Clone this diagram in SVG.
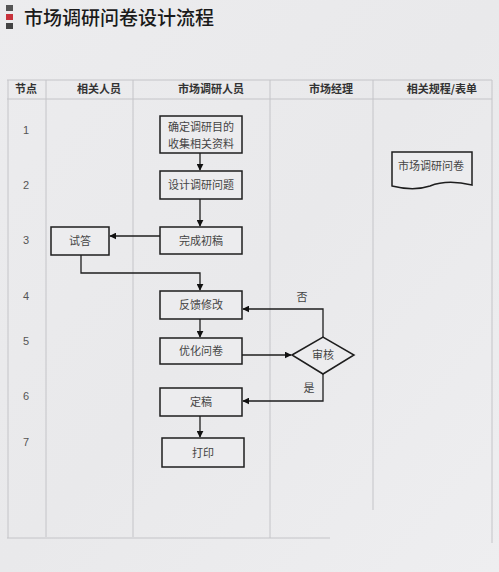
<svg xmlns="http://www.w3.org/2000/svg" width="499" height="572" viewBox="0 0 499 572">
<defs>
<linearGradient id="bg" x1="0" y1="0" x2="1" y2="1">
<stop offset="0" stop-color="#ececee"/>
<stop offset="0.5" stop-color="#e9e9eb"/>
<stop offset="1" stop-color="#eeeef0"/>
</linearGradient>
<marker id="ah" viewBox="0 0 10 10" refX="9" refY="5" markerWidth="7" markerHeight="7" orient="auto" markerUnits="userSpaceOnUse">
<path d="M0,0 L10,5 L0,10 z" fill="#111"/>
</marker>
<style>
.grid{stroke:#c4c4c8;stroke-width:1;fill:none}
.hdr{font-family:"Noto Sans CJK SC","Noto Sans",sans-serif;font-size:11px;font-weight:bold;fill:#333;text-anchor:middle}
.num{font-family:"Liberation Sans","Noto Sans",sans-serif;font-size:11px;fill:#555;text-anchor:middle}
.box{fill:#ececee;stroke:#1e1e1e;stroke-width:1.5}
.lbl{font-family:"Noto Sans CJK SC","Noto Sans",sans-serif;font-size:11px;fill:#444;text-anchor:middle}
.con{fill:none;stroke:#1e1e1e;stroke-width:1.3}
</style>
</defs>
<rect width="499" height="572" fill="url(#bg)"/>
<g id="title">
<rect x="6" y="5" width="7" height="6" fill="#555"/>
<rect x="6" y="14" width="7" height="6" fill="#c8323c"/>
<rect x="6" y="23" width="7" height="6" fill="#444"/>
<text x="24" y="25" font-family="Noto Sans CJK SC,sans-serif" font-size="19" font-weight="500" fill="#1a1a1a">市场调研问卷设计流程</text>
</g>
<g id="table">
<line class="grid" x1="7" y1="80" x2="492" y2="80"/>
<line class="grid" x1="7" y1="99" x2="492" y2="99"/>
<line class="grid" x1="7" y1="538" x2="330" y2="538"/>
<line class="grid" x1="8" y1="80" x2="8" y2="538"/>
<line class="grid" x1="46" y1="80" x2="46" y2="537"/>
<line class="grid" x1="133" y1="80" x2="133" y2="537" stroke="#d4d4d8"/>
<line class="grid" x1="270" y1="80" x2="270" y2="538"/>
<line class="grid" x1="373" y1="80" x2="373" y2="510"/>
<line class="grid" x1="492" y1="80" x2="492" y2="543"/>
<text class="hdr" x="26" y="93">节点</text>
<text class="hdr" x="99" y="93">相关人员</text>
<text class="hdr" x="211" y="93">市场调研人员</text>
<text class="hdr" x="331" y="93">市场经理</text>
<text class="hdr" x="442" y="93">相关规程/表单</text>
<text class="num" x="26" y="134">1</text>
<text class="num" x="26" y="189">2</text>
<text class="num" x="26" y="244">3</text>
<text class="num" x="26" y="300">4</text>
<text class="num" x="26" y="345">5</text>
<text class="num" x="26" y="400">6</text>
<text class="num" x="26" y="446">7</text>
</g>
<g id="connectors">
<line class="con" x1="200" y1="153" x2="200" y2="170" marker-end="url(#ah)"/>
<line class="con" x1="200" y1="199" x2="200" y2="226" marker-end="url(#ah)"/>
<line class="con" x1="160" y1="236" x2="110" y2="236" marker-end="url(#ah)"/>
<polyline class="con" points="81,255 81,273 200,273 200,290" marker-end="url(#ah)"/>
<line class="con" x1="200" y1="319" x2="200" y2="337" marker-end="url(#ah)"/>
<line class="con" x1="242" y1="355" x2="291" y2="355" marker-end="url(#ah)"/>
<polyline class="con" points="323,337 323,309 243,309" marker-end="url(#ah)"/>
<polyline class="con" points="323,374 323,401 243,401" marker-end="url(#ah)"/>
<line class="con" x1="200" y1="416" x2="200" y2="437" marker-end="url(#ah)"/>
<text class="lbl" x="302" y="301">否</text>
<text class="lbl" x="309" y="392">是</text>
</g>
<g id="n1">
<rect class="box" x="160" y="116" width="82" height="37"/>
<text class="lbl" x="201" y="131">确定调研目的</text>
<text class="lbl" x="201" y="148">收集相关资料</text>
</g>
<g id="n2">
<rect class="box" x="160" y="171" width="82" height="28"/>
<text class="lbl" x="201" y="189">设计调研问题</text>
</g>
<g id="n3">
<rect class="box" x="160" y="227" width="82" height="27"/>
<text class="lbl" x="201" y="245">完成初稿</text>
</g>
<g id="n3b">
<rect class="box" x="51" y="227" width="58" height="28"/>
<text class="lbl" x="80" y="245">试答</text>
</g>
<g id="n4">
<rect class="box" x="160" y="291" width="82" height="28"/>
<text class="lbl" x="201" y="309">反馈修改</text>
</g>
<g id="n5">
<rect class="box" x="160" y="338" width="82" height="26"/>
<text class="lbl" x="201" y="355">优化问卷</text>
</g>
<g id="review">
<polygon class="box" points="292,355 323,337 354,355 323,374"/>
<text class="lbl" x="323" y="359">审核</text>
</g>
<g id="n6">
<rect class="box" x="160" y="388" width="82" height="28"/>
<text class="lbl" x="201" y="406">定稿</text>
</g>
<g id="n7">
<rect class="box" x="162" y="438" width="82" height="29"/>
<text class="lbl" x="203" y="457">打印</text>
</g>
<g id="doc">
<path class="box" d="M392,152 H472 V185 C455,181 440,182 430,186 C418,190 404,189 392,186 Z" stroke-width="1.2"/>
<text class="lbl" x="431" y="170">市场调研问卷</text>
</g>
</svg>
